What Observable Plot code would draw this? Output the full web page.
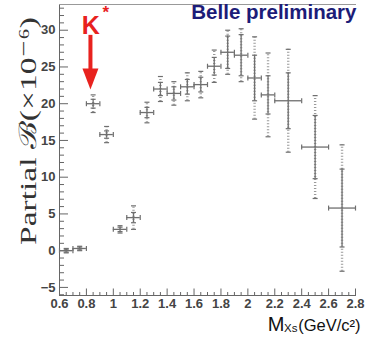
<!DOCTYPE html>
<html>
<head>
<meta charset="utf-8">
<script src="https://cdn.jsdelivr.net/npm/d3@7"></script>
<script src="https://cdn.jsdelivr.net/npm/@observablehq/plot@0.6"></script>
<style>
  html, body { margin: 0; padding: 0; background: #fff; }
  #chart svg { display: block; background: #fff; overflow: visible; }
</style>
</head>
<body>
<div id="chart"></div>
<script>
// ---- data ----
const binCenters   = [0.65, 0.75, 0.85, 0.95, 1.05, 1.15, 1.25, 1.35, 1.45, 1.55, 1.65, 1.75, 1.85, 1.95, 2.05, 2.15, 2.3, 2.5, 2.7];
const binHalfWidth = [0.05, 0.05, 0.05, 0.05, 0.05, 0.05, 0.05, 0.05, 0.05, 0.05, 0.05, 0.05, 0.05, 0.05, 0.05, 0.05, 0.1, 0.1, 0.1];
const partialBF    = [0.0, 0.3, 20.0, 15.8, 2.9, 4.5, 18.8, 22.0, 21.4, 22.3, 22.6, 25.1, 27.0, 26.6, 23.5, 21.2, 20.4, 14.1, 5.8];
const statErr      = [0.2, 0.2, 0.6, 0.5, 0.3, 0.7, 0.7, 0.9, 0.9, 1.0, 1.0, 1.2, 2.2, 2.8, 3.1, 2.6, 3.8, 4.3, 5.3];
const totalErr     = [0.3, 0.3, 1.2, 1.1, 0.5, 1.6, 1.4, 1.7, 1.6, 1.9, 1.8, 2.2, 3.0, 3.6, 5.6, 5.7, 7.0, 7.0, 8.6];

const xTicks = [0.6, 0.8, 1, 1.2, 1.4, 1.6, 1.8, 2, 2.2, 2.4, 2.6, 2.8];
const yTicks = [-5, 0, 5, 10, 15, 20, 25, 30];
const xMinorTicks = d3.range(12, 57).filter(i => i % 4 !== 0).map(i => i / 20);
const yMinorTicks = d3.range(-6, 34).filter(v => v % 5 !== 0);

// K* annotation (data units)
const kstarLabelX = [0.832];
const kstarLabelY = [29.55];
const kstarStarX = [0.945];
const kstarStarY = [33.3];
const arrowX = [0.83];
const arrowShaftTop = [29.3];
const arrowShaftBottom = [24.6];
const arrowTip = [21.95];

const rows = binCenters.map((x, i) => ({
  x, hw: binHalfWidth[i], y: partialBF[i], s: statErr[i], t: totalErr[i]
}));

// ---- custom pixel-sized symbols ----
const rOf = s => Math.sqrt(s / Math.PI);
const hTick = {draw(c, s) { const r = rOf(s); c.moveTo(-r, 0); c.lineTo(r, 0); }};
const vTick = {draw(c, s) { const r = rOf(s); c.moveTo(0, -r); c.lineTo(0, r); }};
const tickRight = {draw(c, s) { const r = rOf(s); c.moveTo(0, 0); c.lineTo(r, 0); }};
const tickUp = {draw(c, s) { const r = rOf(s); c.moveTo(0, 0); c.lineTo(0, -r); }};
const headDown = {draw(c, s) { const r = rOf(s); c.moveTo(-r, -2.6 * r); c.lineTo(r, -2.6 * r); c.lineTo(0, 0); c.closePath(); }};

const barColor = "#6f6f6f";
const dotColor = "#9a9a9a";
const axisColor = "#666";
const red = "#e8221e";

const chart = Plot.plot({
  width: 366,
  height: 343,
  marginLeft: 59,
  marginRight: 11,
  marginTop: 4,
  marginBottom: 48,
  x: {domain: [0.6, 2.8]},
  y: {domain: [-6.1, 33.5]},
  style: {fontFamily: "'Liberation Sans', Arial, sans-serif", background: "#fff"},
  marks: [
    // frame lines
    Plot.frame({anchor: "left", stroke: axisColor}),
    Plot.frame({anchor: "bottom", stroke: axisColor}),
    Plot.frame({anchor: "top", stroke: "#999"}),
    // inward ticks
    Plot.dot(yTicks, {y: d => d, frameAnchor: "left", symbol: tickRight, r: 8.5, stroke: axisColor, fill: "none", strokeWidth: 1}),
    Plot.dot(yMinorTicks, {y: d => d, frameAnchor: "left", symbol: tickRight, r: 4.5, stroke: axisColor, fill: "none", strokeWidth: 1}),
    Plot.dot(xTicks, {x: d => d, frameAnchor: "bottom", symbol: tickUp, r: 7, stroke: axisColor, fill: "none", strokeWidth: 1}),
    Plot.dot(xMinorTicks, {x: d => d, frameAnchor: "bottom", symbol: tickUp, r: 3.5, stroke: axisColor, fill: "none", strokeWidth: 1}),
    // tick labels
    Plot.axisY({ticks: yTicks, tickSize: 0, tickPadding: 4, fontSize: 13, fontWeight: "bold", fill: "#444", label: null}),
    Plot.axisX({ticks: xTicks, tickSize: 0, tickPadding: 3, fontSize: 13, fontWeight: "bold", fill: "#444", label: null, tickFormat: d => String(d)}),
    // total (dotted) error bars
    Plot.ruleX(rows, {x: "x", y1: d => d.y - d.t, y2: d => d.y + d.t, stroke: dotColor, strokeWidth: 2.4, strokeDasharray: "1,2"}),
    // stat error bars
    Plot.ruleX(rows, {x: "x", y1: d => d.y - d.s, y2: d => d.y + d.s, stroke: barColor, strokeWidth: 1.3}),
    // x bin width
    Plot.ruleY(rows, {y: "y", x1: d => d.x - d.hw, x2: d => d.x + d.hw, stroke: barColor, strokeWidth: 1.3}),
    // caps
    Plot.dot(rows, {x: "x", y: d => d.y + d.s, symbol: hTick, r: 2.5, stroke: barColor, fill: "none", strokeWidth: 1.2}),
    Plot.dot(rows, {x: "x", y: d => d.y - d.s, symbol: hTick, r: 2.5, stroke: barColor, fill: "none", strokeWidth: 1.2}),
    Plot.dot(rows, {x: "x", y: d => d.y + d.t, symbol: hTick, r: 2.5, stroke: barColor, fill: "none", strokeWidth: 1.2}),
    Plot.dot(rows, {x: "x", y: d => d.y - d.t, symbol: hTick, r: 2.5, stroke: barColor, fill: "none", strokeWidth: 1.2}),
    Plot.dot(rows, {x: d => d.x - d.hw, y: "y", symbol: vTick, r: 2.5, stroke: barColor, fill: "none", strokeWidth: 1.2}),
    Plot.dot(rows, {x: d => d.x + d.hw, y: "y", symbol: vTick, r: 2.5, stroke: barColor, fill: "none", strokeWidth: 1.2}),
    // K* annotation
    Plot.ruleX(arrowX, {x: d => d, y1: arrowShaftTop, y2: arrowShaftBottom, stroke: red, strokeWidth: 4}),
    Plot.dot(arrowX, {x: d => d, y: arrowTip, symbol: headDown, r: 8, fill: red, stroke: "none"}),
    Plot.text(["K"], {x: kstarLabelX, y: kstarLabelY, text: d => d, fill: red, fontSize: 25, fontWeight: "bold", lineAnchor: "bottom", textAnchor: "middle"}),
    Plot.text(["*"], {x: kstarStarX, y: kstarStarY, text: d => d, fill: red, fontSize: 17, fontWeight: "bold", lineAnchor: "top", textAnchor: "middle"}),
    // Belle preliminary
    Plot.text(["Belle preliminary"], {frameAnchor: "top-right", text: d => d, dx: 1, dy: 14, lineAnchor: "bottom", textAnchor: "end", fill: "#1c1c78", fontSize: 20.5, fontWeight: "bold"}),
    // y axis label
    Plot.text(["Partial ℬ(×10⁻⁶)"], {frameAnchor: "left", text: d => d, rotate: -90, dx: -31, dy: -19, lineAnchor: "middle", textAnchor: "middle", fill: "#333", fontSize: 24, fontFamily: "'Liberation Serif', 'DejaVu Serif', serif"}),
    // x axis label
    Plot.text(["M"], {frameAnchor: "bottom-right", text: d => d, dx: -71, dy: 35, lineAnchor: "bottom", textAnchor: "end", fill: "#111", fontSize: 20}),
    Plot.text(["Xs"], {frameAnchor: "bottom-right", text: d => d, dx: -58, dy: 36, lineAnchor: "bottom", textAnchor: "end", fill: "#111", fontSize: 11.5}),
    Plot.text(["(GeV/c²)"], {frameAnchor: "bottom-right", text: d => d, dx: 5, dy: 35, lineAnchor: "bottom", textAnchor: "end", fill: "#111", fontSize: 16.5})
  ]
});

document.getElementById("chart").appendChild(chart);

// the y-axis title is stretched along the axis as in the reference
d3.select(chart).selectAll("text").each(function() {
  if (this.textContent === "Partial ℬ(×10⁻⁶)") {
    d3.select(this).attr("textLength", 228).attr("lengthAdjust", "spacingAndGlyphs");
  }
});
</script>
</body>
</html>
